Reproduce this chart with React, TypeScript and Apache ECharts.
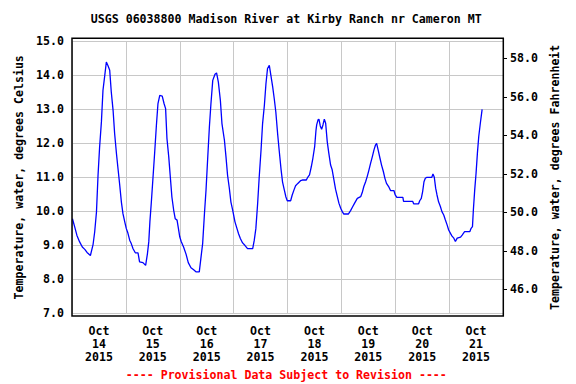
import React, { useEffect, useRef } from 'react';
import * as echarts from 'echarts';

const TITLE = 'USGS 06038800 Madison River at Kirby Ranch nr Cameron MT';
const FOOTER = '---- Provisional Data Subject to Revision ----';
const LEFT_NAME = 'Temperature, water, degrees Celsius';
const RIGHT_NAME = 'Temperature, water, degrees Fahrenheit';

const dayLabels = [
  'Oct\n14\n2015', 'Oct\n15\n2015', 'Oct\n16\n2015', 'Oct\n17\n2015',
  'Oct\n18\n2015', 'Oct\n19\n2015', 'Oct\n20\n2015', 'Oct\n21\n2015',
];
const fahrenheitTicks = [46, 48, 50, 52, 54, 56, 58];

// hours since Oct 14 2015 00:00
const hours = [
  0.2, 1.2, 2.2, 3.4, 4.6, 5.7, 6.7, 8.2, 9.4, 10.1, 10.9, 11.6, 12.3, 13.1, 13.8, 14.6, 15.3, 16.0, 16.8, 17.5,
  18.3, 19.0, 19.8, 20.5, 21.2, 22.0, 22.7, 23.5, 24.2, 24.9, 25.7, 26.4, 27.2, 28.2, 29.4, 30.1, 31.6, 32.8, 33.6, 34.2,
  34.7, 35.3, 36.1, 36.8, 37.6, 38.3, 39.1, 40.2, 41.0, 41.7, 42.3, 43.1, 43.8, 44.5, 45.3, 46.0, 46.8, 47.4, 48.0, 48.6,
  49.7, 50.8, 51.8, 53.0, 54.2, 55.2, 56.7, 57.4, 58.2, 59.0, 59.7, 60.4, 61.2, 61.9, 62.7, 63.7, 64.4, 65.2, 66.1, 66.8,
  67.9, 68.6, 69.3, 70.1, 70.8, 71.6, 72.6, 73.5, 74.2, 75.0, 76.0, 77.0, 78.2, 80.5, 81.2, 81.9, 82.7, 83.4, 84.2, 84.9,
  85.7, 86.4, 87.1, 87.9, 88.6, 89.4, 90.1, 90.8, 91.6, 92.3, 93.1, 93.8, 94.6, 95.3, 95.9, 97.4, 98.1, 98.9, 99.6, 100.6,
  101.8, 102.6, 104.4, 105.0, 105.8, 106.6, 107.3, 108.1, 108.7, 109.0, 109.6, 110.0, 110.6, 111.2, 111.8, 112.4, 113.0, 113.7, 114.4, 115.2,
  115.9, 116.7, 117.4, 118.2, 118.9, 119.7, 120.4, 121.1, 123.1, 124.1, 124.9, 125.9, 127.1, 128.6, 129.3, 130.0, 130.8, 131.5, 132.3, 133.0,
  133.8, 134.5, 135.2, 135.7, 136.4, 137.2, 137.9, 138.7, 139.4, 140.1, 141.2, 141.9, 143.4, 144.0, 144.7, 147.4, 147.7, 151.8, 152.2, 154.4,
  154.9, 155.6, 156.2, 156.8, 157.4, 158.1, 160.3, 160.8, 161.4, 162.0, 162.6, 163.3, 164.1, 164.8, 165.6, 166.3, 167.1, 167.8, 168.6, 169.3,
  170.1, 170.8, 171.6, 173.1, 173.8, 174.9, 177.2, 177.8, 178.4, 178.8, 179.4, 180.0, 180.6, 181.2, 181.9, 182.7,
];
const tempC = [
  9.78, 9.54, 9.29, 9.10, 8.95, 8.88, 8.79, 8.70, 9.03, 9.39, 9.98, 11.06, 11.89, 12.63, 13.56, 14.00, 14.39, 14.29, 14.15, 13.51,
  12.97, 12.28, 11.70, 11.25, 10.81, 10.27, 9.93, 9.69, 9.49, 9.36, 9.15, 9.05, 8.90, 8.78, 8.78, 8.51, 8.49, 8.41, 8.75, 9.10,
  9.69, 10.23, 11.01, 11.70, 12.53, 13.17, 13.41, 13.39, 13.17, 13.02, 12.14, 11.60, 11.01, 10.42, 10.03, 9.78, 9.74, 9.50, 9.25, 9.12,
  8.95, 8.74, 8.49, 8.34, 8.28, 8.22, 8.22, 8.61, 9.05, 9.93, 10.62, 11.50, 12.48, 13.17, 13.85, 14.03, 14.07, 13.80, 13.26, 12.58,
  12.09, 11.60, 11.06, 10.67, 10.27, 10.03, 9.69, 9.49, 9.34, 9.20, 9.07, 9.00, 8.90, 8.90, 9.15, 9.49, 10.23, 11.01, 11.79, 12.58,
  13.12, 13.75, 14.20, 14.29, 14.00, 13.66, 13.31, 12.92, 12.28, 11.79, 11.25, 10.86, 10.62, 10.42, 10.31, 10.31, 10.48, 10.63, 10.75, 10.82,
  10.90, 10.92, 10.92, 11.00, 11.07, 11.31, 11.56, 11.90, 12.39, 12.54, 12.69, 12.71, 12.51, 12.41, 12.54, 12.71, 12.59, 12.05, 11.71, 11.36,
  11.22, 10.92, 10.65, 10.43, 10.24, 10.09, 9.99, 9.92, 9.92, 10.02, 10.12, 10.24, 10.38, 10.43, 10.55, 10.73, 10.87, 11.02, 11.22, 11.41,
  11.61, 11.80, 11.95, 12.00, 11.80, 11.56, 11.36, 11.17, 10.97, 10.82, 10.71, 10.61, 10.61, 10.48, 10.41, 10.41, 10.29, 10.29, 10.22, 10.22,
  10.31, 10.38, 10.58, 10.87, 10.97, 11.00, 11.00, 11.10, 11.00, 10.68, 10.48, 10.28, 10.14, 9.99, 9.89, 9.75, 9.60, 9.45, 9.35, 9.27,
  9.21, 9.11, 9.21, 9.24, 9.30, 9.40, 9.40, 9.50, 9.55, 10.04, 10.63, 11.12, 11.71, 12.20, 12.59, 13.00,
];

const FONT = '"DejaVu Sans Mono", monospace';
const FS = 11.6;

export default function App() {
  const ref = useRef<HTMLDivElement>(null);
  useEffect(() => {
    document.body.style.margin = '0';
    const chart = echarts.init(ref.current!, null, { renderer: 'svg' });
    const txt = { fontFamily: FONT, fontSize: FS, fontWeight: 'bold' as const, color: '#000' };
    const gridLeft = 72, gridRight = 73, gridTop = 41.3, gridBottom = 70.7;
    chart.setOption({
      animation: false,
      backgroundColor: '#fff',
      grid: { left: gridLeft, right: gridRight, top: gridTop, bottom: gridBottom },
      xAxis: [
        { type: 'value', min: 0, max: 192, show: false },
        {
          type: 'category', data: dayLabels, boundaryGap: true, position: 'bottom',
          axisLine: { show: false }, axisTick: { show: false },
          axisLabel: { ...txt, margin: 11, lineHeight: 13, interval: 0 },
          splitLine: { show: true, interval: 0, lineStyle: { color: '#c8c8c8', width: 1 } },
        },
      ],
      yAxis: [
        {
          type: 'value', min: 7, max: 15, interval: 1, position: 'left',
          axisLine: { show: false }, axisTick: { show: false },
          axisLabel: { ...txt, margin: 8, formatter: (v: number) => v.toFixed(1) },
          splitLine: { show: true, lineStyle: { color: '#c8c8c8', width: 1 } },
          name: LEFT_NAME, nameLocation: 'middle', nameRotate: 90, nameGap: 41,
          nameTextStyle: { ...txt },
        },
        {
          type: 'value', min: 44.753, max: 58.883, position: 'right',
          axisLine: { show: false },
          axisTick: { show: true, inside: false, length: 4, customValues: fahrenheitTicks, lineStyle: { color: '#000' } },
          axisLabel: { ...txt, margin: 7, customValues: fahrenheitTicks, formatter: (v: number) => v.toFixed(1) },
          splitLine: { show: false },
          name: RIGHT_NAME, nameLocation: 'middle', nameRotate: 90, nameGap: 42,
          nameTextStyle: { ...txt },
        },
      ],
      series: [
        {
          type: 'line', xAxisIndex: 0, yAxisIndex: 0,
          data: hours.map((h, i) => [h, tempC[i]]),
          showSymbol: false, symbol: 'none',
          lineStyle: { color: '#0000ff', width: 1.3 },
        },
      ],
      graphic: [
        {
          type: 'rect', z: 100, silent: true,
          shape: { x: 72, y: 38.3, width: 431.3, height: 277.7 },
          style: { fill: 'none', stroke: '#000', lineWidth: 1.5 },
        },
        {
          type: 'text', z: 100, x: 286.2, y: 18.8,
          style: { text: TITLE, font: `bold ${FS}px ${FONT}`, fill: '#000', textAlign: 'center', textVerticalAlign: 'middle' },
        },
        {
          type: 'text', z: 100, x: 286.3, y: 375,
          style: { text: FOOTER, font: `bold ${FS}px ${FONT}`, fill: '#ff0000', textAlign: 'center', textVerticalAlign: 'middle' },
        },
      ],
    });
    return () => chart.dispose();
  }, []);
  return <div ref={ref} style={{ width: 576, height: 384 }} />;
}
